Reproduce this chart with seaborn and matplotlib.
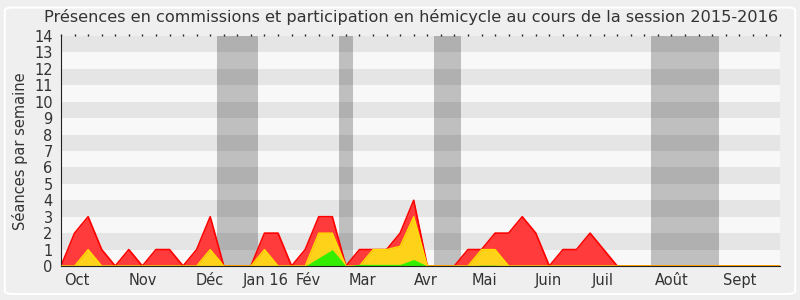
import matplotlib
matplotlib.use("Agg")
import matplotlib.pyplot as plt
import matplotlib.transforms as mtransforms
import seaborn as sns
import pandas as pd
import numpy as np
from matplotlib.patches import FancyBboxPatch

# ---- data (weekly, index 0..53) ----
weeks = list(range(54))
commissions = [0, 2, 3, 1, 0, 1, 0, 1, 1, 0, 1, 3, 0, 0, 0, 2, 2, 0, 1, 3,
               3, 0, 1, 1, 1, 2, 4, 0, 0, 0, 1, 1, 2, 2, 3, 2, 0, 1, 1, 2,
               1, 0, 0, 0, 0, 0, 0, 0, 0, 0, 0, 0, 0, 0]
hemicycle = [0, 0, 1, 0, 0, 0, 0, 0, 0, 0, 0, 1, 0, 0, 0, 1, 0, 0, 0, 2,
             2, 0, 0, 1, 1, 1.2, 3, 0, 0, 0, 0, 1, 1, 0, 0, 0, 0, 0, 0, 0,
             0, 0, 0, 0, 0, 0, 0, 0, 0, 0, 0, 0, 0, 0]
interventions = [0, 0, 0, 0, 0, 0, 0, 0, 0, 0, 0, 0, 0, 0, 0, 0, 0, 0, 0, 0.5,
                 1, 0, 0.1, 0.1, 0.1, 0.1, 0.4, 0, 0, 0, 0, 0.05, 0.05, 0, 0, 0, 0, 0, 0, 0,
                 0, 0, 0, 0, 0, 0, 0, 0, 0, 0, 0, 0, 0, 0]
vacations = [(11.5, 14.5), (20.5, 21.5), (27.5, 29.5), (43.5, 48.5)]
month_labels = ["Oct", "Nov", "Déc", "Jan 16", "Fév", "Mar", "Avr", "Mai",
                "Juin", "Juil", "Août", "Sept"]
month_pos = [1.2, 6.0, 11.0, 15.1, 18.2, 22.2, 26.9, 31.2, 35.9, 39.9, 45.0, 50.0]
y_ticks = list(range(15))

title = "Présences en commissions et participation en hémicycle au cours de la session 2015-2016"
ylabel = "Séances par semaine"

df = pd.DataFrame({"semaine": weeks, "commissions": commissions,
                   "hemicycle": hemicycle, "interventions": interventions})

sns.set_style("white")
plt.rcParams["font.family"] = ["DejaVu Sans"]

fig = plt.figure(figsize=(8, 3), dpi=100, facecolor="#efefef")
fig.patches.append(FancyBboxPatch((0.006, 0.02), 0.988, 0.955, boxstyle="round,pad=0,rounding_size=0.01",
                                  transform=fig.transFigure, facecolor="#efefef",
                                  edgecolor="#ffffff", linewidth=1.5, zorder=-10))
ax = fig.add_axes([61 / 800, 34 / 300, 719 / 800, 230 / 300])
ax.set_facecolor("#f8f8f8")

for a, b in vacations:
    ax.axvspan(a, b, color="#bfbfbf", zorder=0.5, lw=0)
for k in range(1, 14, 2):
    ax.axhspan(k, k + 1, color="black", alpha=0.075, zorder=0.6, lw=0)

ax.fill_between(df["semaine"], df["commissions"], color="#ff3b3b", zorder=2, lw=0)
sns.lineplot(data=df, x="semaine", y="commissions", color="#ff0000", lw=1.2, ax=ax, zorder=2.1)
ax.fill_between(df["semaine"], df["hemicycle"], color="#ffd21a", zorder=3, lw=0)
sns.lineplot(data=df, x="semaine", y="hemicycle", color="#ffe000", lw=1.0, ax=ax, zorder=3.1)
ax.fill_between(df["semaine"], df["interventions"], color="#33ee00", zorder=4, lw=0)

ax.set_xlim(0, 53)
ax.set_ylim(0, 14)
ax.set_yticks(y_ticks)
ax.set_yticklabels([str(v) for v in y_ticks], fontsize=10.5, color="#333333")
ax.set_xticks(weeks)
ax.set_xticklabels([""] * len(weeks))
ax.tick_params(axis="x", which="major", direction="out", length=5, width=1, color="#222222",
               top=True, labeltop=False)
ax.tick_params(axis="y", direction="out", length=5, width=1, color="#222222", pad=1)
for t in ax.xaxis.get_major_ticks():
    t.tick2line.set_markersize(1.5)
    t.tick2line.set_markeredgewidth(1)

trans = mtransforms.blended_transform_factory(ax.transData, ax.transAxes)
for pos, lab in zip(month_pos, month_labels):
    ax.text(pos, -0.03, lab, transform=trans, ha="center", va="top",
            fontsize=10.5, color="#333333")

ax.set_xlabel("")
ax.set_ylabel(ylabel, fontsize=10.5, color="#333333", labelpad=4)
for s in ["top", "right"]:
    ax.spines[s].set_visible(False)
ax.spines["left"].set_color("#222222")
ax.spines["bottom"].set_color("#222222")
ax.spines["bottom"].set_zorder(5)
ax.grid(False)

fig.text(411 / 800, 0.943, title, ha="center", va="center", fontsize=11.6, color="#333333")

fig.savefig("out.png", dpi=100, facecolor=fig.get_facecolor())
